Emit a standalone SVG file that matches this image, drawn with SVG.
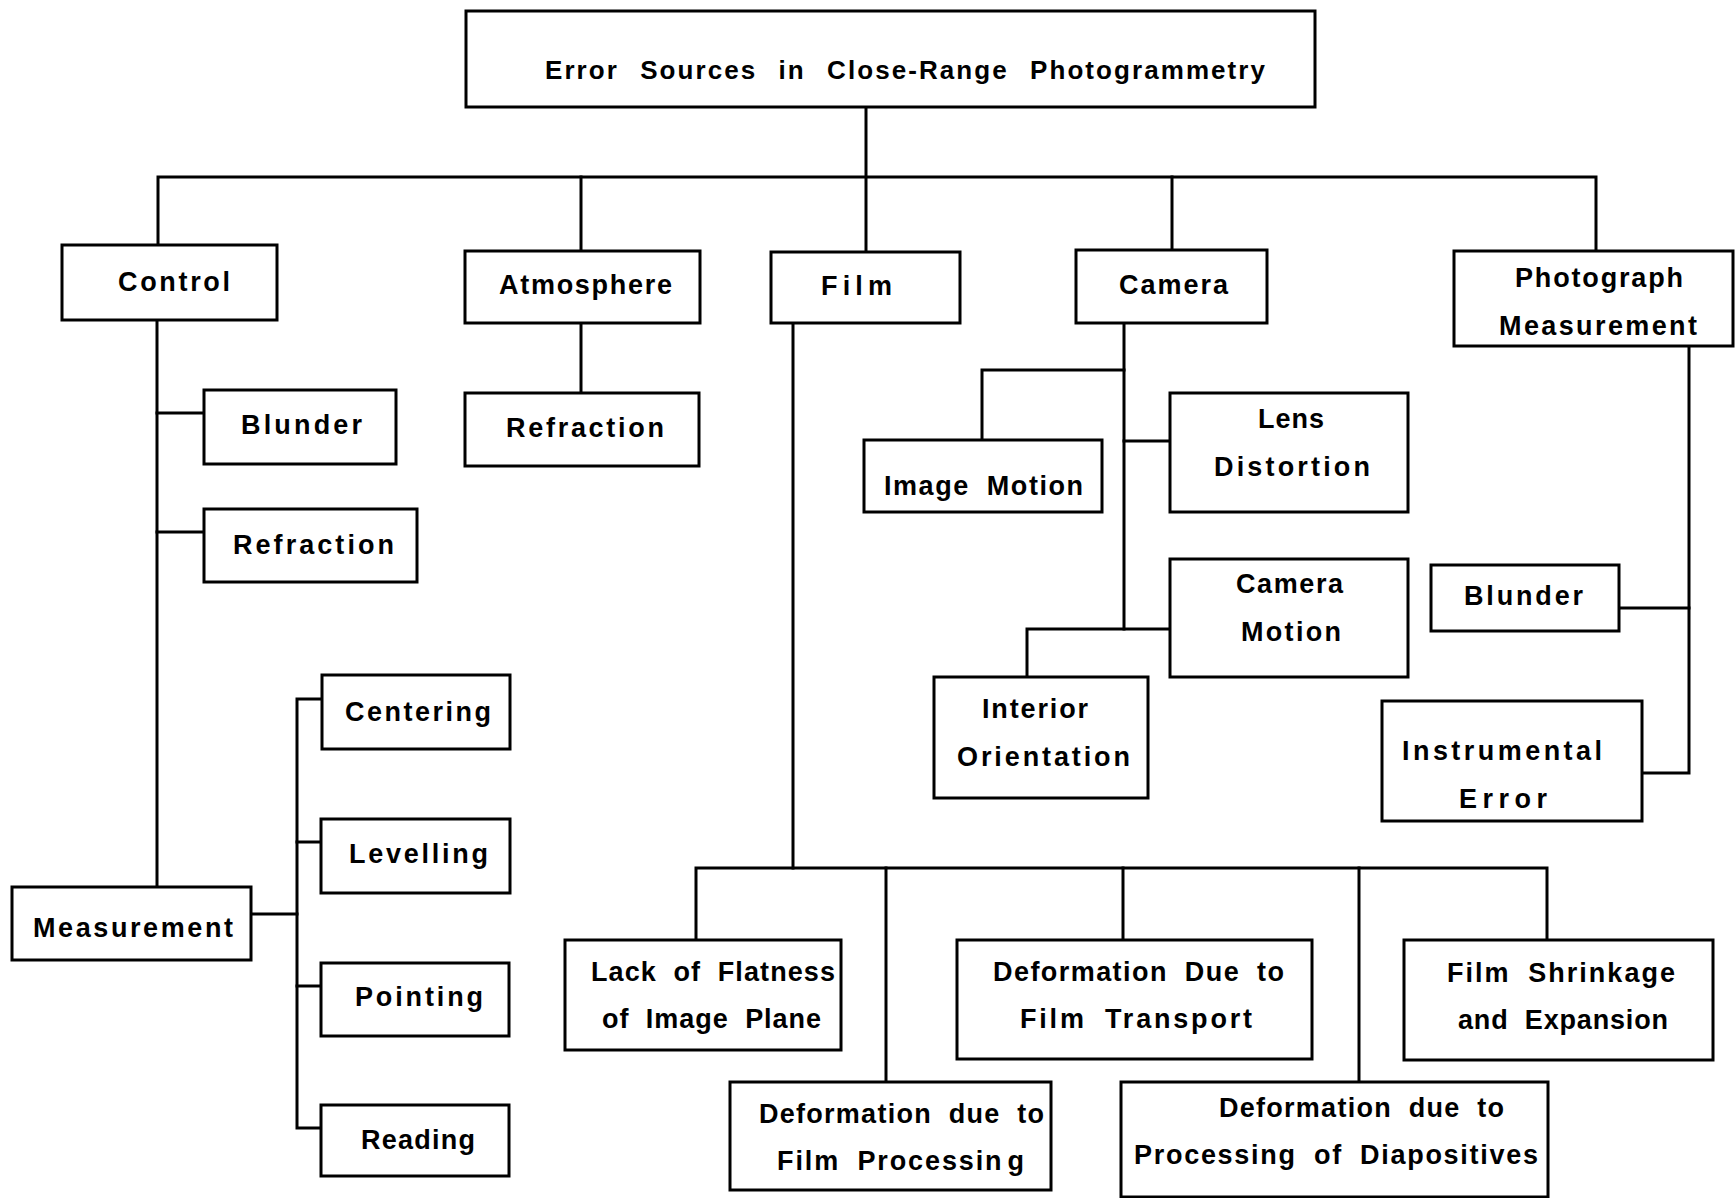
<svg xmlns="http://www.w3.org/2000/svg" width="1735" height="1198" viewBox="0 0 1735 1198">
  <style>
    .box { fill: #fff; stroke: #000; stroke-width: 3; }
    .wire { fill: none; stroke: #000; stroke-width: 3; stroke-linejoin: miter; stroke-linecap: square; }
    text { font-family: "Liberation Sans", Arial, sans-serif; font-weight: bold; font-size: 27px; fill: #000; word-spacing: 8px; }
    .title { font-size: 26px; word-spacing: 12px; }
  </style>
  <rect width="1735" height="1198" fill="#fff"/>

  <!-- connectors -->
  <g id="connectors" class="wire">
    <path d="M866 107 V252"/>
    <path d="M158 246 V177 H1596 V251"/>
    <path d="M581 177 V251"/>
    <path d="M1172 177 V250"/>
    <path d="M581 323 V393"/>
    <path d="M157 320 V887"/>
    <path d="M157 413 H204"/>
    <path d="M157 532 H204"/>
    <path d="M251 914 H297"/>
    <path d="M321 699 H297 V1128 H321"/>
    <path d="M297 842 H321"/>
    <path d="M297 986 H321"/>
    <path d="M793 323 V868"/>
    <path d="M696 940 V868 H1547 V940"/>
    <path d="M886 868 V1082"/>
    <path d="M1123 868 V940"/>
    <path d="M1359 868 V1082"/>
    <path d="M1124 323 V629"/>
    <path d="M982 440 V370 H1124"/>
    <path d="M1124 441 H1170"/>
    <path d="M1027 677 V629 H1170"/>
    <path d="M1689 346 V773 H1642"/>
    <path d="M1619 608 H1689"/>
  </g>

  <g id="root">
    <rect class="box" x="466" y="11" width="849" height="96"/>
    <text class="title" x="545" y="79" textLength="720" lengthAdjust="spacing">Error Sources in Close-Range Photogrammetry</text>
  </g>

  <g id="control">
    <rect class="box" x="62" y="245" width="215" height="75"/>
    <text x="118" y="291" textLength="112" lengthAdjust="spacing">Control</text>
  </g>
  <g id="atmosphere">
    <rect class="box" x="465" y="251" width="235" height="72"/>
    <text x="499" y="294" textLength="173" lengthAdjust="spacing">Atmosphere</text>
  </g>
  <g id="film">
    <rect class="box" x="771" y="252" width="189" height="71"/>
    <text x="821" y="295" textLength="71" lengthAdjust="spacing">Film</text>
  </g>
  <g id="camera">
    <rect class="box" x="1076" y="250" width="191" height="73"/>
    <text x="1119" y="294" textLength="109" lengthAdjust="spacing">Camera</text>
  </g>
  <g id="photograph-measurement">
    <rect class="box" x="1454" y="251" width="279" height="95"/>
    <text x="1515" y="287" textLength="168" lengthAdjust="spacing">Photograph</text>
    <text x="1499" y="335" textLength="198" lengthAdjust="spacing">Measurement</text>
  </g>

  <g id="control-blunder">
    <rect class="box" x="204" y="390" width="192" height="74"/>
    <text x="241" y="434" textLength="121" lengthAdjust="spacing">Blunder</text>
  </g>
  <g id="control-refraction">
    <rect class="box" x="204" y="509" width="213" height="73"/>
    <text x="233" y="554" textLength="161" lengthAdjust="spacing">Refraction</text>
  </g>
  <g id="atmosphere-refraction">
    <rect class="box" x="465" y="393" width="234" height="73"/>
    <text x="506" y="437" textLength="158" lengthAdjust="spacing">Refraction</text>
  </g>

  <g id="measurement">
    <rect class="box" x="12" y="887" width="239" height="73"/>
    <text x="33" y="937" textLength="200" lengthAdjust="spacing">Measurement</text>
  </g>
  <g id="centering">
    <rect class="box" x="322" y="675" width="188" height="74"/>
    <text x="345" y="721" textLength="146" lengthAdjust="spacing">Centering</text>
  </g>
  <g id="levelling">
    <rect class="box" x="321" y="819" width="189" height="74"/>
    <text x="349" y="863" textLength="139" lengthAdjust="spacing">Levelling</text>
  </g>
  <g id="pointing">
    <rect class="box" x="321" y="963" width="188" height="73"/>
    <text x="355" y="1006" textLength="128" lengthAdjust="spacing">Pointing</text>
  </g>
  <g id="reading">
    <rect class="box" x="321" y="1105" width="188" height="71"/>
    <text x="361" y="1149" textLength="114" lengthAdjust="spacing">Reading</text>
  </g>

  <g id="image-motion">
    <rect class="box" x="864" y="440" width="238" height="72"/>
    <text x="884" y="495" textLength="199" lengthAdjust="spacing">Image Motion</text>
  </g>
  <g id="lens-distortion">
    <rect class="box" x="1170" y="393" width="238" height="119"/>
    <text x="1258" y="428" textLength="66" lengthAdjust="spacing">Lens</text>
    <text x="1214" y="476" textLength="156" lengthAdjust="spacing">Distortion</text>
  </g>
  <g id="camera-motion">
    <rect class="box" x="1170" y="559" width="238" height="118"/>
    <text x="1236" y="593" textLength="107" lengthAdjust="spacing">Camera</text>
    <text x="1241" y="641" textLength="100" lengthAdjust="spacing">Motion</text>
  </g>
  <g id="interior-orientation">
    <rect class="box" x="934" y="677" width="214" height="121"/>
    <text x="982" y="718" textLength="106" lengthAdjust="spacing">Interior</text>
    <text x="957" y="766" textLength="173" lengthAdjust="spacing">Orientation</text>
  </g>

  <g id="photo-blunder">
    <rect class="box" x="1431" y="565" width="188" height="66"/>
    <text x="1464" y="605" textLength="119" lengthAdjust="spacing">Blunder</text>
  </g>
  <g id="instrumental-error">
    <rect class="box" x="1382" y="701" width="260" height="120"/>
    <text x="1402" y="760" textLength="200" lengthAdjust="spacing">Instrumental</text>
    <text x="1459" y="808" textLength="88" lengthAdjust="spacing">Error</text>
  </g>

  <g id="lack-of-flatness">
    <rect class="box" x="565" y="940" width="276" height="110"/>
    <text x="591" y="981" textLength="244" lengthAdjust="spacing">Lack of Flatness</text>
    <text x="602" y="1028" textLength="219" lengthAdjust="spacing">of Image Plane</text>
  </g>
  <g id="film-processing">
    <rect class="box" x="730" y="1082" width="321" height="108"/>
    <text x="759" y="1123" textLength="285" lengthAdjust="spacing">Deformation due to</text>
    <text x="777" y="1170" textLength="247" lengthAdjust="spacing">Film Processin<tspan dx="4">g</tspan></text>
  </g>
  <g id="film-transport">
    <rect class="box" x="957" y="940" width="355" height="119"/>
    <text x="993" y="981" textLength="291" lengthAdjust="spacing">Deformation Due to</text>
    <text x="1020" y="1028" textLength="232" lengthAdjust="spacing">Film Transport</text>
  </g>
  <g id="film-shrinkage">
    <rect class="box" x="1404" y="940" width="309" height="120"/>
    <text x="1447" y="982" textLength="228" lengthAdjust="spacing">Film Shrinkage</text>
    <text x="1458" y="1029" textLength="210" lengthAdjust="spacing">and Expansion</text>
  </g>
  <g id="diapositives">
    <rect class="box" x="1121" y="1082" width="427" height="115"/>
    <text x="1219" y="1117" textLength="285" lengthAdjust="spacing">Deformation due to</text>
    <text x="1134" y="1164" textLength="404" lengthAdjust="spacing">Processing of Diapositives</text>
  </g>
</svg>
